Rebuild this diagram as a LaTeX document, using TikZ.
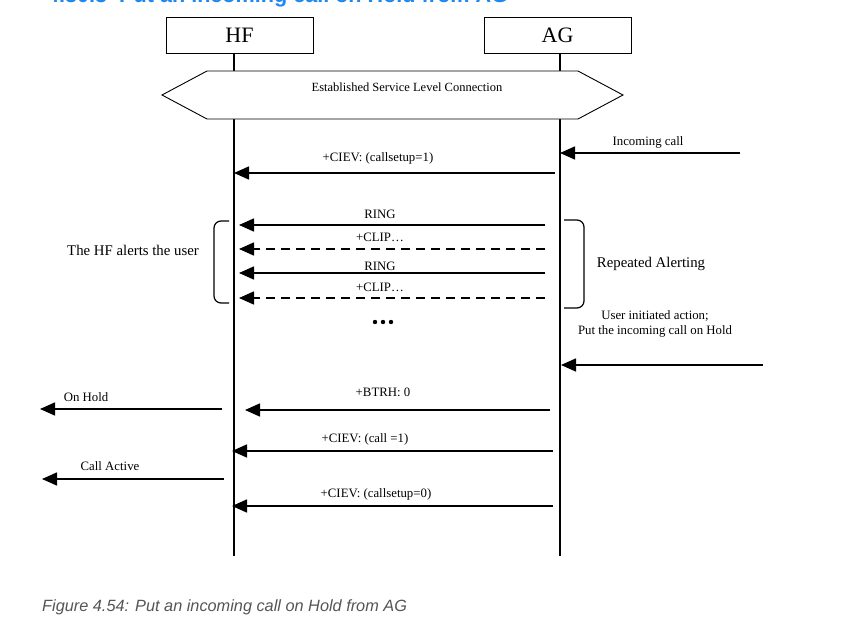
\documentclass[tikz,border=0pt]{standalone}
\usepackage{fontspec}
\setmainfont{Liberation Serif}
\newfontfamily\capfont{Liberation Sans}
\usetikzlibrary{arrows.meta}
\definecolor{titleblue}{HTML}{1E88F0}
\definecolor{capgray}{HTML}{555555}
\tikzset{
  actor/.style={draw, line width=0.8pt, minimum width=147pt, minimum height=36pt, inner sep=0pt, font=\fontsize{22}{24}\selectfont},
  life/.style={line width=1.3pt},
  msg/.style={line width=1.6pt, -{Triangle[length=15pt,width=13pt]}},
  dmsg/.style={msg, dash pattern=on 9pt off 6pt},
  lbl/.style={inner sep=0pt, font=\fontsize{12.8}{15}\selectfont},
  biglbl/.style={inner sep=0pt, font=\fontsize{14.8}{17}\selectfont},
  brk/.style={line width=1.2pt, rounded corners=7pt},
}
\begin{document}
\begin{tikzpicture}[x=1pt,y=-1pt]
\useasboundingbox (0,0) rectangle (846,634);
\clip (0,0) rectangle (846,634);
\fill[white] (0,0) rectangle (846,634);
% cut-off title
\node[anchor=base west, inner sep=0pt, text=titleblue, font=\capfont\bfseries\fontsize{21.6}{24}\selectfont] (title) at (47,3) {4.30.3\hspace{6pt} Put an incoming call on Hold from AG};
% actors
\node[actor] (HF) at (239.5,35) {HF};
\node[actor] (AG) at (557.5,35) {AG};
\coordinate (hfT) at (234,53); \coordinate (hfB) at (234,556);
\coordinate (agT) at (560,53); \coordinate (agB) at (560,556);
\draw[life] (hfT) -- (hfB);
\draw[life] (agT) -- (agB);
% hexagon
\draw[line width=0.9pt, fill=white] (162,95) -- (207,71) -- (578,71) -- (623,95) -- (578,119) -- (207,119) -- cycle;
\node[inner sep=0pt, font=\fontsize{12.5}{14}\selectfont] (slc) at (407,87) {Established Service Level Connection};
% incoming call
\coordinate (ic0) at (740,153); \coordinate (ic1) at (560,153);
\draw[msg] (ic0) -- (ic1);
\node[lbl] (icl) at (648,142) {Incoming call};
% CIEV callsetup=1
\coordinate (c1a) at (555,173); \coordinate (c1b) at (234,173);
\draw[msg] (c1a) -- (c1b);
\node[lbl] (c1l) at (378,158) {+CIEV: (callsetup=1)};
% RING / CLIP
\coordinate (r1a) at (545,225); \coordinate (r1b) at (239,225);
\draw[msg] (r1a) -- (r1b);
\node[lbl] (r1l) at (380,214) {RING};
\coordinate (p1a) at (545,249); \coordinate (p1b) at (239,249);
\draw[dmsg] (p1a) -- (p1b);
\node[lbl] (p1l) at (380,237) {+CLIP\ldots};
\coordinate (r2a) at (545,273); \coordinate (r2b) at (239,273);
\draw[msg] (r2a) -- (r2b);
\node[lbl] (r2l) at (380,266) {RING};
\coordinate (p2a) at (545,298); \coordinate (p2b) at (239,298);
\draw[dmsg] (p2a) -- (p2b);
\node[lbl] (p2l) at (380,287) {+CLIP\ldots};
\foreach \i/\dx in {1/-8,2/0,3/8} \fill (383+\dx,322) circle (2.2pt);
% brackets
\draw[brk] (229,221) -- (214,221) -- (214,303) -- (229,303);
\node[biglbl] (hfal) at (133,250) {The HF alerts the user};
\draw[brk] (564,220) -- (584,220) -- (584,308) -- (564,308);
\node[biglbl] (rep) at (651,264) {Repeated Alerting};
\node[lbl, align=center] (user) at (655,324) {User initiated action;\\Put the incoming call on Hold};
\coordinate (u0) at (763,365); \coordinate (u1) at (561,365);
\draw[msg] (u0) -- (u1);
% BTRH
\coordinate (ba) at (550,410); \coordinate (bb) at (245,410);
\draw[msg] (ba) -- (bb);
\node[lbl] (bl) at (383,392) {+BTRH: 0};
\coordinate (oh0) at (222,409); \coordinate (oh1) at (40,409);
\draw[msg] (oh0) -- (oh1);
\node[lbl] (ohl) at (86,397) {On Hold};
% CIEV call=1
\coordinate (c2a) at (553,451); \coordinate (c2b) at (232,451);
\draw[msg] (c2a) -- (c2b);
\node[lbl] (c2l) at (365,439) {+CIEV: (call =1)};
\coordinate (ca0) at (224,479); \coordinate (ca1) at (42,479);
\draw[msg] (ca0) -- (ca1);
\node[lbl] (cal) at (110,466) {Call Active};
% CIEV callsetup=0
\coordinate (c3a) at (553,506); \coordinate (c3b) at (232,506);
\draw[msg] (c3a) -- (c3b);
\node[lbl] (c3l) at (376,494) {+CIEV: (callsetup=0)};
% caption
\node[anchor=west, inner sep=0pt, text=capgray, font=\capfont\itshape\fontsize{16.3}{19}\selectfont] (cap) at (42,607) {Figure 4.54: Put an incoming call on Hold from AG};
\end{tikzpicture}
\end{document}
